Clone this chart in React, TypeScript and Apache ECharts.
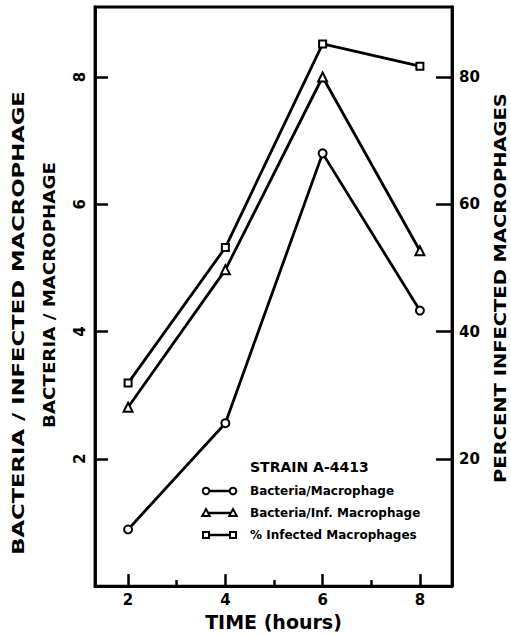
import React, { useEffect, useRef } from "react";
import * as echarts from "echarts";

const hours = [2, 4, 6, 8];
const bacteriaPerMacrophage = [0.89, 2.56, 6.8, 4.33];
const bacteriaPerInfMacrophage = [2.81, 4.97, 8.0, 5.27];
const percentInfected = [31.9, 53.2, 85.2, 81.7];

const xMajorTicks = [2, 4, 6, 8];
const xMinorTicks = [3, 5, 7];
const leftTicks = [2, 4, 6, 8];
const rightTicks = [20, 40, 60, 80];

const legendTitle = "STRAIN A-4413";
const seriesNames = ["Bacteria/Macrophage", "Bacteria/Inf. Macrophage", "% Infected Macrophages"];
const xTitle = "TIME (hours)";
const leftTitleOuter = "BACTERIA / INFECTED MACROPHAGE";
const leftTitleInner = "BACTERIA / MACROPHAGE";
const rightTitle = "PERCENT INFECTED MACROPHAGES";

const FONT = "DejaVu Sans";
const INK = "#000";

export default function App() {
  const ref = useRef<HTMLDivElement>(null);
  useEffect(() => {
    document.body.style.margin = "0";
    const chart = echarts.init(ref.current!, undefined, { renderer: "svg" });
    const lineStyle = { color: INK, width: 2.8 };
    const pts = (ys: number[]) => hours.map((h, i) => [h, ys[i]]);
    const symStyle = { color: "#fff", borderColor: INK, borderWidth: 2 };
    const legendRows = [491, 513, 535];
    const symbols = ["circle", "triangle", "rect"];
    const legendGraphics: any[] = [];
    legendRows.forEach((y, i) => {
      legendGraphics.push({
        type: "line",
        shape: { x1: 206, y1: y, x2: 233, y2: y },
        style: { stroke: INK, lineWidth: 2.5 },
      });
      [206, 233].forEach((cx) => {
        if (symbols[i] === "circle") {
          legendGraphics.push({ type: "circle", shape: { cx, cy: y, r: 3.3 }, style: { fill: "#fff", stroke: INK, lineWidth: 2 }, z: 10 });
        } else if (symbols[i] === "triangle") {
          legendGraphics.push({ type: "polygon", shape: { points: [[cx, y - 4], [cx + 3.8, y + 3], [cx - 3.8, y + 3]] }, style: { fill: "#fff", stroke: INK, lineWidth: 2 }, z: 10 });
        } else {
          legendGraphics.push({ type: "rect", shape: { x: cx - 3, y: y - 3, width: 6, height: 6 }, style: { fill: "#fff", stroke: INK, lineWidth: 2 }, z: 10 });
        }
      });
      legendGraphics.push({
        type: "text",
        x: 250,
        y,
        style: { text: seriesNames[i], font: `bold 12px "${FONT}"`, fill: INK, verticalAlign: "middle", align: "left" },
      });
    });

    chart.setOption({
      animation: false,
      backgroundColor: "#fff",
      grid: { left: 95, top: 7, right: 59, bottom: 48, show: true, borderColor: INK, borderWidth: 2.8, backgroundColor: "transparent" },
      xAxis: [
        {
          type: "value",
          min: 1.32,
          max: 8.66,
          position: "bottom",
          name: xTitle,
          nameLocation: "middle",
          nameGap: 23,
          nameTextStyle: { color: INK, fontFamily: FONT, fontWeight: "bold", fontSize: 19 },
          axisLine: { show: true, lineStyle: { color: INK, width: 2.8 } },
          axisTick: { show: true, inside: true, length: 12, customValues: xMajorTicks, lineStyle: { color: INK, width: 2.5 } },
          axisLabel: { customValues: xMajorTicks, color: INK, fontFamily: FONT, fontWeight: "bold", fontSize: 15, margin: 6 },
          splitLine: { show: false },
        },
        {
          type: "value",
          min: 1.32,
          max: 8.66,
          position: "bottom",
          axisLine: { show: false },
          axisTick: { show: true, inside: true, length: 6, customValues: xMinorTicks, lineStyle: { color: INK, width: 2.5 } },
          axisLabel: { show: false },
          splitLine: { show: false },
        },
      ],
      yAxis: [
        {
          type: "value",
          min: 0,
          max: 9.1,
          position: "left",
          axisLine: { show: true, lineStyle: { color: INK, width: 2.8 } },
          axisTick: { show: true, inside: true, length: 13, customValues: leftTicks, lineStyle: { color: INK, width: 2.5 } },
          axisLabel: { customValues: leftTicks, rotate: 90, color: INK, fontFamily: FONT, fontWeight: "bold", fontSize: 15, margin: 8 },
          splitLine: { show: false },
        },
        {
          type: "value",
          min: 0,
          max: 91,
          position: "right",
          axisLine: { show: true, lineStyle: { color: INK, width: 2.8 } },
          axisTick: { show: true, inside: true, length: 16, customValues: rightTicks, lineStyle: { color: INK, width: 2.5 } },
          axisLabel: { customValues: rightTicks, color: INK, fontFamily: FONT, fontWeight: "bold", fontSize: 15, margin: 7 },
          splitLine: { show: false },
        },
      ],
      series: [
        { name: seriesNames[0], type: "line", data: pts(bacteriaPerMacrophage), yAxisIndex: 0, symbol: "circle", symbolSize: 8, lineStyle, itemStyle: symStyle, z: 3 },
        { name: seriesNames[1], type: "line", data: pts(bacteriaPerInfMacrophage), yAxisIndex: 0, symbol: "triangle", symbolSize: 9, lineStyle, itemStyle: symStyle, z: 3 },
        { name: seriesNames[2], type: "line", data: pts(percentInfected), yAxisIndex: 1, symbol: "rect", symbolSize: 7, lineStyle, itemStyle: symStyle, z: 3 },
      ],
      graphic: [
        {
          type: "text",
          x: 19,
          y: 323,
          rotation: Math.PI / 2,
          scaleX: 1.42,
          style: { text: leftTitleOuter, font: `bold 16px "${FONT}"`, fill: INK, align: "center", verticalAlign: "middle" },
        },
        {
          type: "text",
          x: 49,
          y: 295,
          rotation: Math.PI / 2,
          scaleX: 1.14,
          style: { text: leftTitleInner, font: `bold 16px "${FONT}"`, fill: INK, align: "center", verticalAlign: "middle" },
        },
        {
          type: "text",
          x: 501,
          y: 288,
          rotation: Math.PI / 2,
          scaleX: 1.3,
          style: { text: rightTitle, font: `bold 15px "${FONT}"`, fill: INK, align: "center", verticalAlign: "middle" },
        },
        {
          type: "text",
          x: 250,
          y: 467,
          style: { text: legendTitle, font: `bold 14px "${FONT}"`, fill: INK, align: "left", verticalAlign: "middle" },
        },
        ...legendGraphics,
      ],
    });
    return () => chart.dispose();
  }, []);
  return <div ref={ref} style={{ position: "fixed", left: 0, top: 0, width: 511, height: 636 }} />;
}
